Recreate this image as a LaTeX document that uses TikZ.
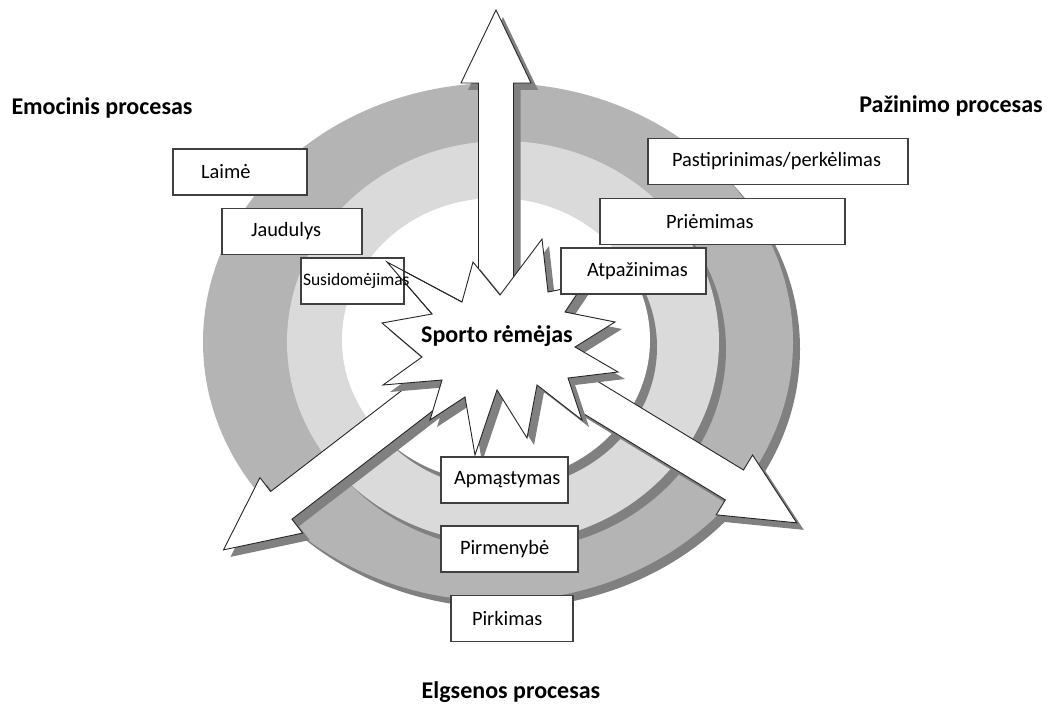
\documentclass[tikz,border=0pt]{standalone}
\usepackage{fontspec}
\setmainfont{Carlito}
\usetikzlibrary{calc,shadows}
\definecolor{ringdark}{RGB}{180,180,180}
\definecolor{ringlight}{RGB}{218,218,218}
\definecolor{shadegray}{RGB}{128,128,128}
\tikzset{
  spx/.style={x=1pt, y=-1pt},
  s shade/.style={drop shadow={shadow xshift=7pt, shadow yshift=-7pt, fill=shadegray, opacity=1}},
  s ring/.style={s shade, draw=none},
  s arrow/.style={s shade, draw=black!85, fill=white, line width=0.9pt},
  s star/.style={s shade, draw=black!85, fill=white, line width=0.9pt},
  s edge/.style={draw=black!85, line width=0.9pt},
  s tag/.style={draw=black!75, fill=white, line width=1.1pt, minimum height=46pt, inner ysep=0pt,
                align=left, font=\fontsize{20.4}{23}\selectfont},
  s title/.style={font=\fontsize{24}{28}\selectfont\bfseries},
}
% block arrow out of the hub: #1 angle, #2 length
\newcommand{\blockarrow}[2]{%
  \draw[s arrow] ($(hub)+(#1:30)+({#1+90}:17.5)$) -- ($(hub)+(#1:#2-73)+({#1+90}:17.5)$)
    -- ($(hub)+(#1:#2-73)+({#1+90}:35)$) -- ($(hub)+(#1:#2)$)
    -- ($(hub)+(#1:#2-73)+({#1-90}:35)$) -- ($(hub)+(#1:#2-73)+({#1-90}:17.5)$)
    -- ($(hub)+(#1:30)+({#1-90}:17.5)$) -- cycle;}

\begin{document}
\begin{tikzpicture}[spx]
\useasboundingbox (0,0) rectangle (1052,706);
\coordinate (hub) at (496,340);
% ---- rings ----
\fill[s ring, ringdark]  (498,342) ellipse [x radius=295pt, y radius=259pt];
\fill[s ring, ringlight] (503,342) ellipse [x radius=216pt, y radius=201pt];
\fill[s ring, white]     (496,340) ellipse [x radius=154pt, y radius=142pt];
% ---- arrows ----
\blockarrow{-90}{330}
\blockarrow{142.4}{344}
\blockarrow{31.3}{352}
% ---- sponsor ----
\draw[s star] (387,262) -- (462,302) -- (473,262) -- (500,295) -- (542,239) -- (548,292)
  -- (583,285) -- (565,312) -- (615,322) -- (575,347) -- (618,372) -- (568,378)
  -- (582,420) -- (537,385) -- (527,438) -- (497,390) -- (475,455) -- (465,397)
  -- (430,420) -- (442,380) -- (383,385) -- (422,357) -- (382,323) -- (432,314) -- cycle;
\node[s title] (sponsor) at (497,336) {Sporto rėmėjas};
% ---- emotional ----
\node[s tag, text width=78pt, inner xsep=28pt]  (laime) at (240,172) {Laimė};
\node[s tag, text width=82pt, inner xsep=29pt]  (jaud)  at (292,231.5) {Jaudulys};
\node[s tag, text width=99pt, inner xsep=2pt, font=\fontsize{17.5}{20}\selectfont]
  (susid) at (352.5,281) {\mbox{Susidomėjimas}};
\draw[s edge] (432,314) -- (387,262) -- (462,302);
% ---- cognitive ----
\node[s tag, text width=212pt, inner xsep=24pt] (pastip) at (778,161.5) {\mbox{Pastiprinimas/perkėlimas}};
\node[s tag, text width=113pt, inner xsep=66pt] (priem)  at (722.5,221.5) {Priėmimas};
\node[s tag, text width=93pt, inner xsep=26pt]  (atpaz)  at (633.5,271) {Atpažinimas};
% ---- behavioural ----
\node[s tag, text width=101pt, inner xsep=13pt] (apmast) at (504.5,480) {Apmąstymas};
\node[s tag, text width=99pt, inner xsep=19pt]  (pirmen) at (509.5,549) {Pirmenybė};
\node[s tag, text width=80pt, inner xsep=21pt]  (pirk)   at (512,618.5) {Pirkimas};
% ---- titles ----
\node[s title] (emoc) at (102,108) {Emocinis procesas};
\node[s title] (pazin) at (951,106) {Pažinimo procesas};
\node[s title] (elgs) at (511,692) {Elgsenos procesas};
\end{tikzpicture}
\end{document}
